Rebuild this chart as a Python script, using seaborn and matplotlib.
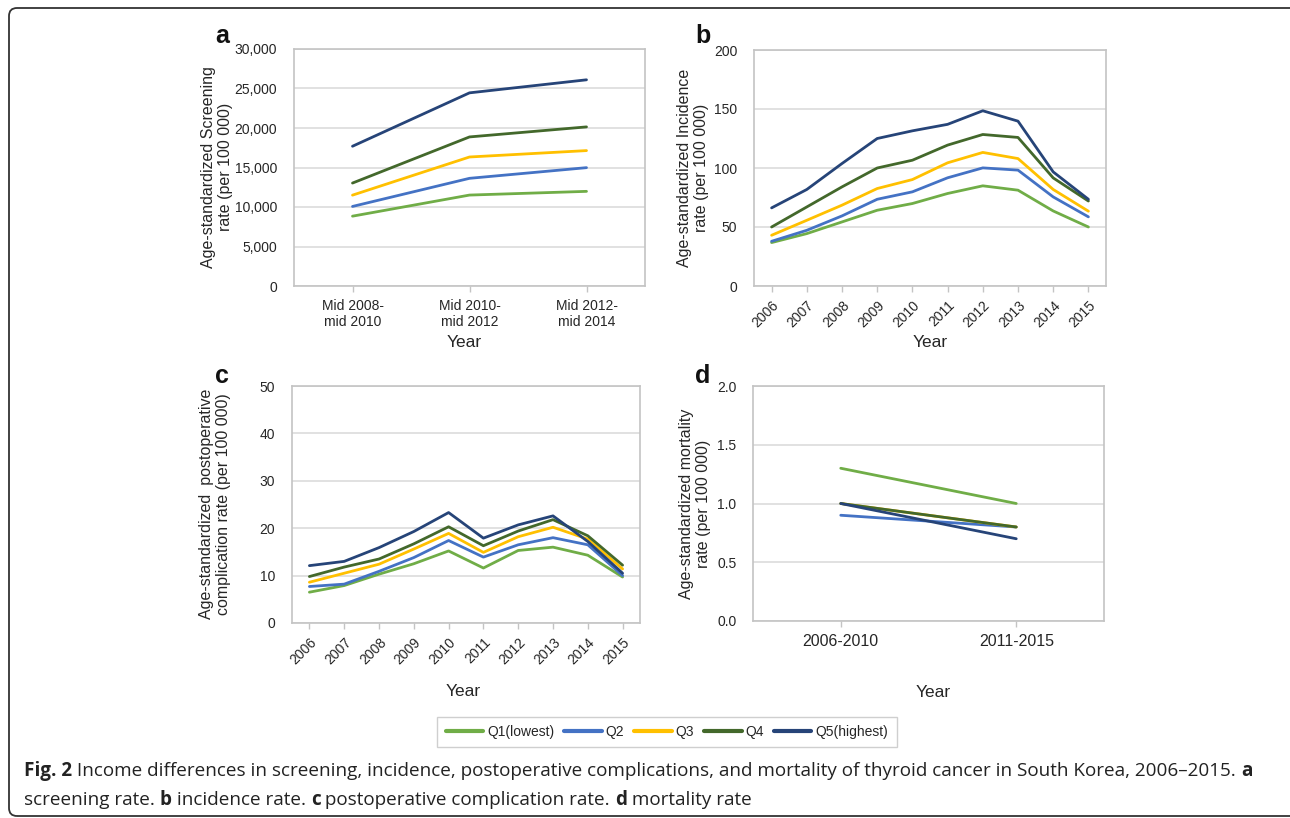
#!/usr/bin/env python3
"""
Income differences in thyroid cancer outcomes by income quintile (4 panels)
"""

import matplotlib
matplotlib.use("Agg")
import matplotlib.pyplot as plt
from matplotlib.patches import FancyBboxPatch
from matplotlib.lines import Line2D
from matplotlib.ticker import FuncFormatter
import seaborn as sns
import pandas as pd

sns.set_style("white")
plt.rcParams['font.family'] = ['Liberation Sans', 'DejaVu Sans']

W, H = 1290, 818

groups = ['Q1(lowest)', 'Q2', 'Q3', 'Q4', 'Q5(highest)']
colors = ['#70AD47', '#4472C4', '#FFC000', '#43682B', '#264478']

# a: screening
screen_periods = ['Mid 2008-\nmid 2010', 'Mid 2010-\nmid 2012', 'Mid 2012-\nmid 2014']
screen_q1 = [8840, 11510, 11980]
screen_q2 = [10070, 13630, 14980]
screen_q3 = [11500, 16330, 17140]
screen_q4 = [13030, 18870, 20140]
screen_q5 = [17690, 24450, 26100]

# b: incidence
years = [2006, 2007, 2008, 2009, 2010, 2011, 2012, 2013, 2014, 2015]
inc_q1 = [36.8, 44.4, 54.3, 64.2, 69.9, 78.4, 84.9, 81.2, 63.6, 50.0]
inc_q2 = [37.9, 47.2, 59.4, 73.5, 79.8, 91.7, 100.1, 98.2, 75.5, 58.6]
inc_q3 = [43.0, 55.7, 68.5, 82.6, 90.2, 104.4, 113.2, 108.0, 81.8, 63.4]
inc_q4 = [50.0, 67.0, 84.0, 100.0, 106.6, 119.4, 128.4, 125.9, 91.6, 72.0]
inc_q5 = [66.2, 81.8, 103.8, 125.0, 131.5, 137.0, 148.5, 139.7, 96.7, 73.5]

# c: postoperative complications
comp_q1 = [6.5, 7.9, 10.3, 12.5, 15.2, 11.6, 15.3, 16.0, 14.3, 9.7]
comp_q2 = [7.7, 8.2, 10.9, 13.8, 17.4, 13.9, 16.5, 18.0, 16.5, 10.0]
comp_q3 = [8.6, 10.5, 12.4, 15.6, 18.9, 14.9, 18.2, 20.2, 17.7, 11.4]
comp_q4 = [9.8, 11.8, 13.5, 16.7, 20.3, 16.3, 19.4, 21.8, 18.4, 12.2]
comp_q5 = [12.1, 13.0, 15.9, 19.3, 23.3, 17.9, 20.7, 22.6, 17.2, 10.5]

# d: mortality
mort_periods = ['2006-2010', '2011-2015']
mort_q1 = [1.3, 1.0]
mort_q2 = [0.9, 0.8]
mort_q3 = [1.0, 0.8]
mort_q4 = [1.0, 0.8]
mort_q5 = [1.0, 0.7]


def fx(px):
    return px / W


def fy(py):
    return 1 - py / H


def long_df(x, series):
    rows = []
    for g, vals in zip(groups, series):
        for xv, v in zip(x, vals):
            rows.append({'x': xv, 'rate': v, 'group': g})
    return pd.DataFrame(rows)


def add_axes(fig, left, top, right, bottom):
    return fig.add_axes([fx(left), fy(bottom), fx(right - left), (bottom - top) / H])


def style_axes(ax, ymax, ystep):
    ax.set_ylim(0, ymax)
    ax.set_yticks([i * ystep for i in range(int(round(ymax / ystep)) + 1)])
    ax.grid(axis='y', color='#D9D9D9', linewidth=1.1)
    ax.grid(axis='x', visible=False)
    for s in ax.spines.values():
        s.set_color('#C4C4C4')
        s.set_linewidth(1.2)
    ax.tick_params(axis='y', length=0, pad=12, labelsize=10, labelcolor='#262626')
    ax.tick_params(axis='x', length=4, width=1, color='#C4C4C4', pad=5,
                   labelsize=10, labelcolor='#262626', bottom=True)
    ax.set_axisbelow(True)


def draw(ax, x, series):
    df = long_df(x, series)
    sns.lineplot(data=df, x='x', y='rate', hue='group', hue_order=groups,
                 palette=colors, linewidth=2.0, legend=False, ax=ax, sort=False)


fig = plt.figure(figsize=(W / 100, H / 100), dpi=100)

# outer frame
frame = FancyBboxPatch((9 / 100, (H - 816) / 100), (1300 - 9) / 100, (816 - 8) / 100,
                       boxstyle='round,pad=0,rounding_size=0.08',
                       transform=fig.dpi_scale_trans, fill=False,
                       edgecolor='#333333', linewidth=1.3)
fig.patches.append(frame)

ylab_size = 11.5

# panel a
ax_a = add_axes(fig, 294, 49, 645, 286)
draw(ax_a, screen_periods, [screen_q1, screen_q2, screen_q3, screen_q4, screen_q5])
style_axes(ax_a, 30000, 5000)
ax_a.set_xlim(-0.5, 2.5)
ax_a.yaxis.set_major_formatter(FuncFormatter(lambda v, p: f'{int(v):,}'))
ax_a.set_xlabel('Year', fontsize=12.5, color='#262626')
ax_a.set_ylabel('Age-standardized Screening\nrate (per 100 000)', fontsize=ylab_size, color='#262626')
ax_a.xaxis.set_label_coords(fx(464), fy(335), transform=fig.transFigure)
ax_a.yaxis.set_label_coords(fx(233), fy(167), transform=fig.transFigure)

# panel b
ax_b = add_axes(fig, 754, 50, 1106, 286)
draw(ax_b, years, [inc_q1, inc_q2, inc_q3, inc_q4, inc_q5])
style_axes(ax_b, 200, 50)
ax_b.set_xlim(2005.5, 2015.5)
ax_b.set_xticks(years)
ax_b.set_xticklabels([str(y) for y in years], rotation=45, ha='right', rotation_mode='anchor')
ax_b.set_xlabel('Year', fontsize=12.5, color='#262626')
ax_b.set_ylabel('Age-standardized Incidence\nrate (per 100 000)', fontsize=ylab_size, color='#262626')
ax_b.xaxis.set_label_coords(fx(930), fy(335), transform=fig.transFigure)
ax_b.yaxis.set_label_coords(fx(709), fy(168), transform=fig.transFigure)

# panel c
ax_c = add_axes(fig, 292, 386, 640, 623)
draw(ax_c, years, [comp_q1, comp_q2, comp_q3, comp_q4, comp_q5])
style_axes(ax_c, 50, 10)
ax_c.set_xlim(2005.5, 2015.5)
ax_c.set_xticks(years)
ax_c.set_xticklabels([str(y) for y in years], rotation=45, ha='right', rotation_mode='anchor')
ax_c.set_xlabel('Year', fontsize=12.5, color='#262626')
ax_c.set_ylabel('Age-standardized  postoperative\ncomplication rate (per 100 000)',
                fontsize=ylab_size, color='#262626')
ax_c.xaxis.set_label_coords(fx(463), fy(684), transform=fig.transFigure)
ax_c.yaxis.set_label_coords(fx(231), fy(504), transform=fig.transFigure)

# panel d
ax_d = add_axes(fig, 753, 386, 1104, 621)
draw(ax_d, mort_periods, [mort_q1, mort_q2, mort_q3, mort_q4, mort_q5])
style_axes(ax_d, 2.0, 0.5)
ax_d.set_xlim(-0.5, 1.5)
ax_d.yaxis.set_major_formatter(FuncFormatter(lambda v, p: f'{v:.1f}'))
ax_d.tick_params(axis='x', labelsize=11.5, pad=5)
ax_d.set_xlabel('Year', fontsize=12.5, color='#262626')
ax_d.set_ylabel('Age-standardized mortality\nrate (per 100 000)', fontsize=ylab_size, color='#262626')
ax_d.xaxis.set_label_coords(fx(933), fy(685), transform=fig.transFigure)
ax_d.yaxis.set_label_coords(fx(711), fy(504), transform=fig.transFigure)

# panel letters
for letter, (px, py) in zip('abcd', [(222, 36), (703, 36), (222, 376), (703, 376)]):
    fig.text(fx(px), fy(py), letter, fontsize=18, fontweight='bold',
             ha='center', va='center', color='#111111')

# legend
handles = [Line2D([0], [0], color=c, linewidth=3) for c in colors]
leg = fig.legend(handles, groups, loc='center', bbox_to_anchor=(fx(667), fy(732)),
                 ncol=5, frameon=True, fancybox=False, edgecolor='#C4C4C4',
                 fontsize=10, handlelength=2.7, handletextpad=0.3,
                 columnspacing=0.7, borderpad=0.6)
leg.get_frame().set_linewidth(1.0)
for t in leg.get_texts():
    t.set_color('#262626')

# caption with bold fragments
cap_font = ['Open Sans', 'DejaVu Sans']
cap_size = 13.6
lines = [
    [('Fig. 2', 'bold'),
     (' Income differences in screening, incidence, postoperative complications, and mortality '
      'of thyroid cancer in South Korea, 2006\u20132015. ', 'normal'),
     ('a', 'bold')],
    [('screening rate. ', 'normal'), ('b', 'bold'), (' incidence rate. ', 'normal'),
     ('c', 'bold'), (' postoperative complication rate. ', 'normal'), ('d', 'bold'),
     (' mortality rate', 'normal')],
]
renderer = fig.canvas.get_renderer()
for line, py in zip(lines, [771, 800]):
    x = 24
    for txt, weight in line:
        t = fig.text(fx(x), fy(py), txt, fontsize=cap_size, fontweight=weight,
                     family=cap_font, ha='left', va='center', color='#222222')
        x += t.get_window_extent(renderer=renderer).width

fig.savefig('out.png', dpi=100)
